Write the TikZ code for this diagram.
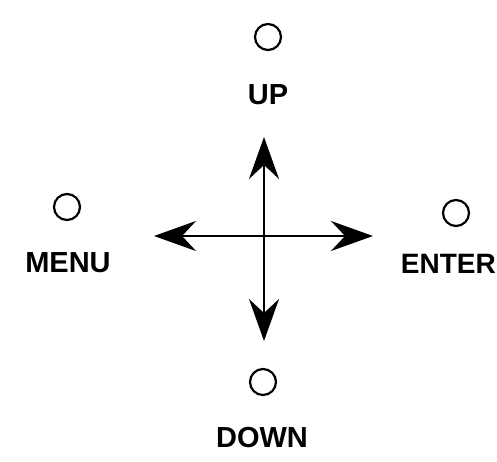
\documentclass[tikz,border=0pt]{standalone}
\usepackage{fontspec}
\setmainfont{Liberation Sans}
\usetikzlibrary{arrows.meta}
\begin{document}
\begin{tikzpicture}[x=1pt,y=-1pt,
  led/.style={draw, circle, line width=2.2pt, minimum size=26pt, inner sep=0pt},
  lbl/.style={font=\fontsize{29}{32}\selectfont\bfseries, inner sep=0pt, anchor=center},
  arr/.style={line width=2.2pt, -{Stealth[length=42pt,width=30pt,inset=14pt]}}]
\useasboundingbox (0,0) rectangle (497,462);
\node[led] (upled) at (268,37) {};
\node[lbl] (uplbl) at (268,95) {UP};
\node[led] (menuled) at (67,207) {};
\node[lbl] (menulbl) at (68,263) {MENU};
\node[led] (enterled) at (456,213) {};
\node[lbl, anchor=east, font=\fontsize{28}{32}\selectfont\bfseries] (enterlbl) at (496,264) {ENTER};
\node[led] (downled) at (263,382) {};
\node[lbl] (downlbl) at (262,438) {DOWN};
\coordinate (c) at (264,236);
\coordinate (tu) at (264,137);
\coordinate (td) at (264,341);
\coordinate (tl) at (154,236);
\coordinate (tr) at (373,236);
\draw[arr] (c) -- (tu);
\draw[arr] (c) -- (td);
\draw[arr] (c) -- (tl);
\draw[arr] (c) -- (tr);
\end{tikzpicture}
\end{document}
